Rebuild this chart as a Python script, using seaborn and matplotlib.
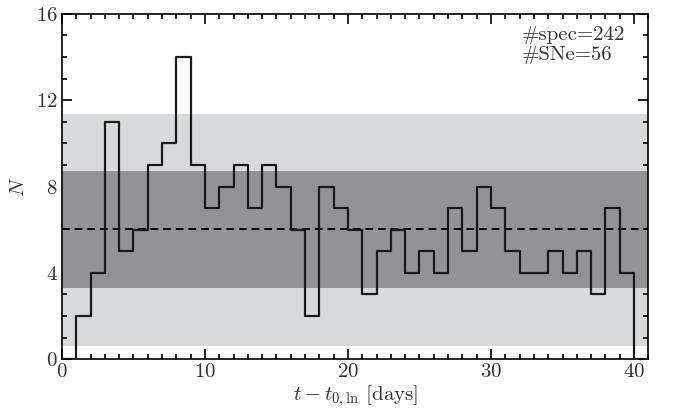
import numpy as np
import pandas as pd
import matplotlib
matplotlib.use("Agg")
import matplotlib.pyplot as plt
import seaborn as sns
from matplotlib.ticker import MultipleLocator

# data
bin_left = list(range(0, 41))
counts = [0, 2, 4, 11, 5, 6, 9, 10, 14, 9, 7, 8, 9, 7, 9, 8, 6, 2, 8, 7,
          6, 3, 5, 6, 4, 5, 4, 7, 5, 8, 7, 5, 4, 4, 5, 4, 5, 3, 7, 4, 0]
mean_level = 6.05
band_1sig = (3.3, 8.7)
band_2sig = (0.63, 11.36)
annot = ["#spec=242", "#SNe=56"]

sns.set_theme(style="ticks")
plt.rcParams['font.family'] = ['cmr10', 'DejaVu Serif']
plt.rcParams['mathtext.fontset'] = 'cm'
plt.rcParams['axes.formatter.use_mathtext'] = True
plt.rcParams['axes.unicode_minus'] = False

FS = 15
fig = plt.figure(figsize=(6.81, 4.09), dpi=100)
ax = fig.add_axes([0.091, 0.122, 0.861, 0.844])

ax.axhspan(band_2sig[0], band_2sig[1], color='#d8d9db', lw=0, zorder=0)
ax.axhspan(band_1sig[0], band_1sig[1], color='#939396', lw=0, zorder=1)
ax.axhline(mean_level, color='black', ls=(0, (4, 2.5)), lw=1.4, zorder=3)

df = pd.DataFrame({"t": np.array(bin_left, dtype=float) + 0.5, "n": np.array(counts, dtype=float)})
sns.histplot(data=df, x="t", weights="n", bins=len(bin_left), binrange=(0, len(bin_left)),
             element="step", fill=False, color="#1a1a1a", linewidth=1.6, ax=ax, zorder=4)

ax.set_xlim(0, 41)
ax.set_ylim(0, 16)
ax.xaxis.set_major_locator(MultipleLocator(10))
ax.xaxis.set_minor_locator(MultipleLocator(1))
ax.yaxis.set_major_locator(MultipleLocator(4))
ax.yaxis.set_minor_locator(MultipleLocator(1))
ax.tick_params(which='both', direction='in', top=True, right=True, width=1.2, colors='black',
               labelsize=FS, labelcolor='#333333')
ax.tick_params(which='major', length=7, pad=3)
ax.tick_params(which='minor', length=3.5)
for s in ax.spines.values():
    s.set_linewidth(1.2)
    s.set_color('black')

ax.set_xlabel(r"$t - t_{0,\mathrm{ln}}$ [days]", fontsize=FS, color='#333333', labelpad=1)
ax.set_ylabel(r"$N$", fontsize=FS, color='#333333', labelpad=6)

ax.text(0.785, 0.965, "\n".join(annot), transform=ax.transAxes,
        ha='left', va='top', fontsize=FS, color='#333333', linespacing=1.15)

fig.savefig("out.png", dpi=100)
